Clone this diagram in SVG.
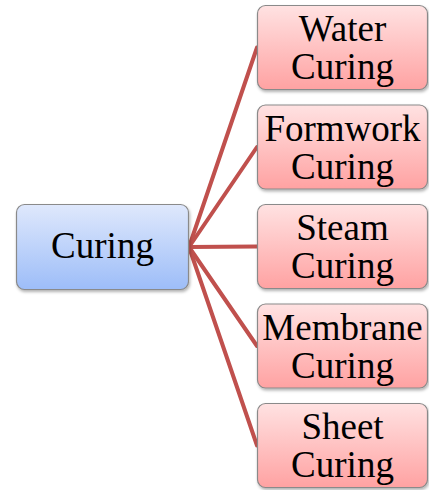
<svg xmlns="http://www.w3.org/2000/svg" width="429" height="490" viewBox="0 0 429 490">
<style>
.t{font-family:"Liberation Serif","Times New Roman",serif;font-size:37px;fill:#000;text-anchor:middle}
.box{stroke:#8a8a8a;stroke-width:1.2}
.ln{stroke:#C0504D;stroke-width:4;fill:none;stroke-linecap:round}
</style>
<defs>
<linearGradient id="gb" x1="0" y1="0" x2="0" y2="1"><stop offset="0" stop-color="#dfe8fc"/><stop offset="1" stop-color="#9dbdf8"/></linearGradient>
<linearGradient id="gp" x1="0" y1="0" x2="0" y2="1"><stop offset="0" stop-color="#ffe2e2"/><stop offset="1" stop-color="#ffa2a2"/></linearGradient>
<filter id="sh" x="-10%" y="-10%" width="130%" height="130%"><feDropShadow dx="1" dy="2" stdDeviation="1.5" flood-color="#000" flood-opacity="0.3"/></filter>
</defs>
<g id="connectors">
<line class="ln" x1="189" y1="247" x2="257" y2="47.5"/>
<line class="ln" x1="189" y1="247" x2="257" y2="147"/>
<line class="ln" x1="189" y1="247" x2="257" y2="246.5"/>
<line class="ln" x1="189" y1="247" x2="257" y2="346"/>
<line class="ln" x1="189" y1="247" x2="257" y2="445.5"/>
</g>
<g id="curing"><rect class="box" x="16.5" y="204.5" width="172" height="85" rx="8" fill="url(#gb)" filter="url(#sh)"/><text class="t" x="102.5" y="258">Curing</text></g>
<g id="water"><rect class="box" x="257.5" y="5.5" width="170" height="84" rx="8" fill="url(#gp)" filter="url(#sh)"/><text class="t" x="342.5" y="41">Water</text><text class="t" x="342.5" y="79">Curing</text></g>
<g id="formwork"><rect class="box" x="257.5" y="105" width="170" height="84" rx="8" fill="url(#gp)" filter="url(#sh)"/><text class="t" x="342.5" y="140.5">Formwork</text><text class="t" x="342.5" y="178.5">Curing</text></g>
<g id="steam"><rect class="box" x="257.5" y="204.5" width="170" height="84" rx="8" fill="url(#gp)" filter="url(#sh)"/><text class="t" x="342.5" y="240">Steam</text><text class="t" x="342.5" y="278">Curing</text></g>
<g id="membrane"><rect class="box" x="257.5" y="304" width="170" height="84" rx="8" fill="url(#gp)" filter="url(#sh)"/><text class="t" x="342.5" y="339.5">Membrane</text><text class="t" x="342.5" y="377.5">Curing</text></g>
<g id="sheet"><rect class="box" x="257.5" y="403.5" width="170" height="84" rx="8" fill="url(#gp)" filter="url(#sh)"/><text class="t" x="342.5" y="439">Sheet</text><text class="t" x="342.5" y="477">Curing</text></g>
</svg>
